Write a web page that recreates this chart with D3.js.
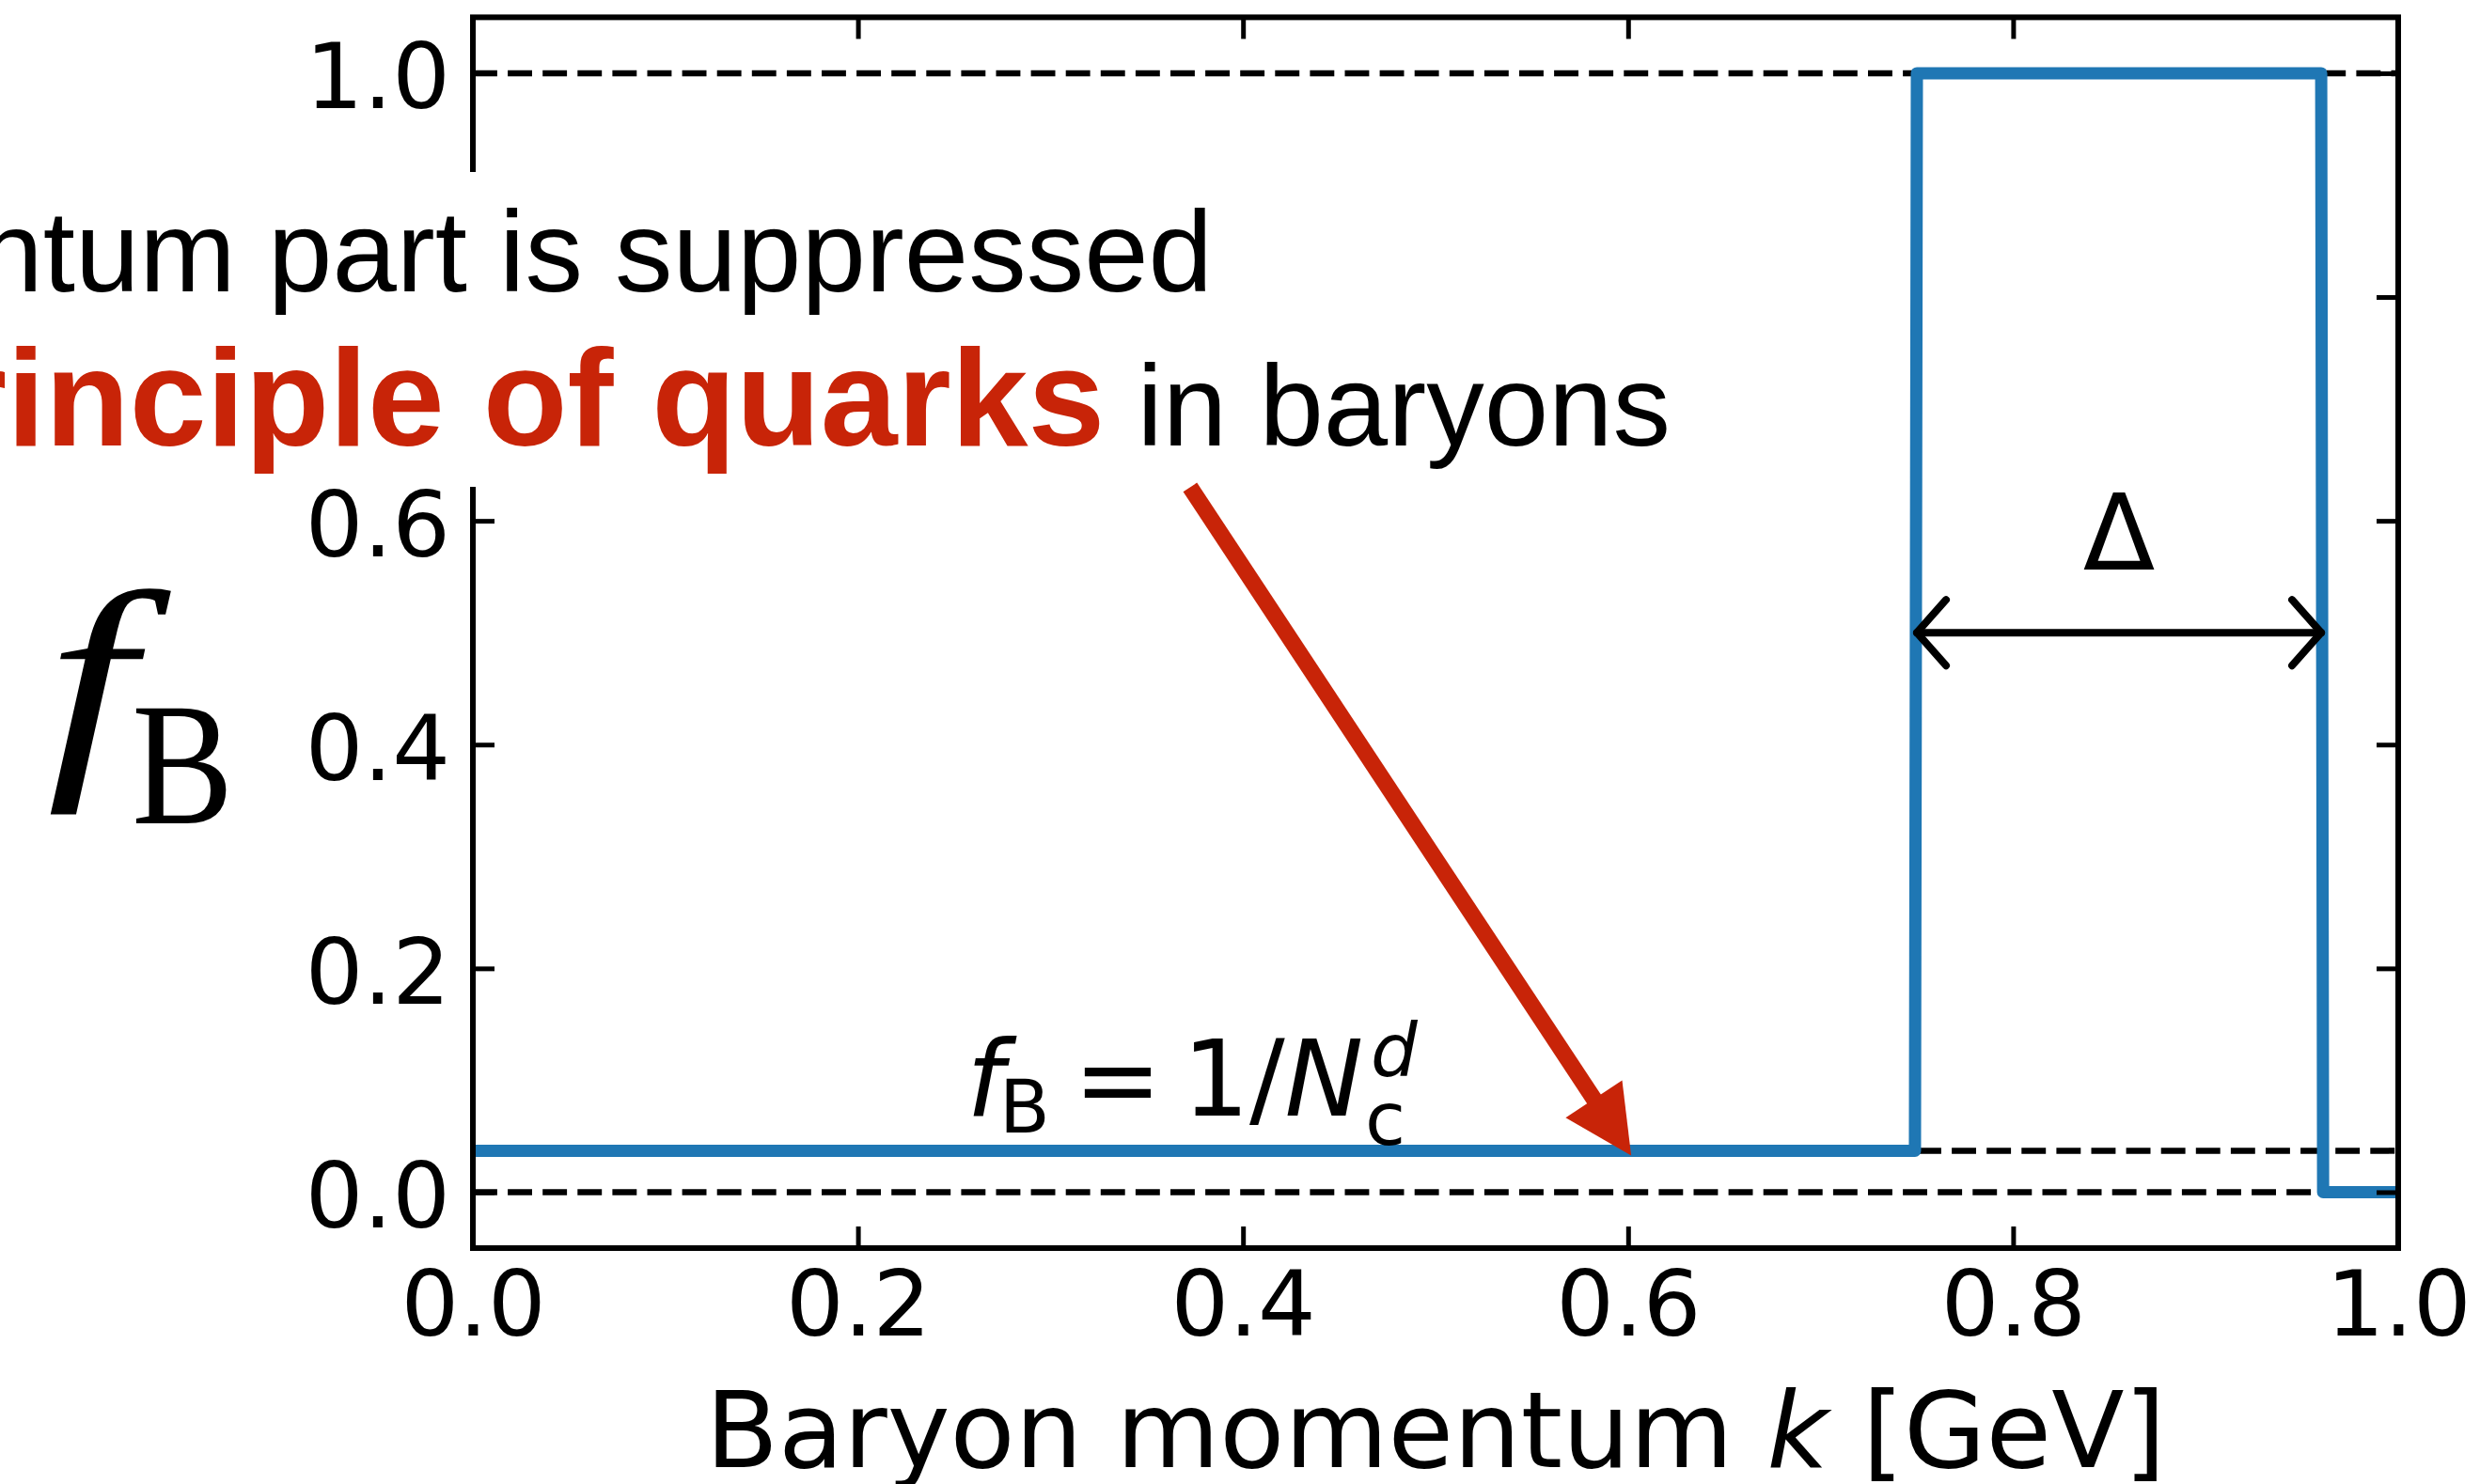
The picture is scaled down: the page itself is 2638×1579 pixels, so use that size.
<!DOCTYPE html>
<html><head><meta charset="utf-8">
<script src="https://cdn.jsdelivr.net/npm/d3@7"></script>
<style>html,body{margin:0;padding:0;background:#fff;} svg{display:block;}</style>
</head><body>
<svg id="chart" width="2638" height="1579"></svg>
<script>
// ---------- data ----------
const momentum   = [0, 0.749, 0.750, 0.960, 0.961, 1.0];     // k [GeV]
const occupation = [0.037, 0.037, 1.0, 1.0, 0.0, 0.0];       // f_B
const xTickValues = [0, 0.2, 0.4, 0.6, 0.8, 1.0];
const xTickLabels = ["0.0", "0.2", "0.4", "0.6", "0.8", "1.0"];
const yTickValues = [0, 0.2, 0.4, 0.6, 0.8, 1.0];
const yTickLabels = ["0.0", "0.2", "0.4", "0.6", "", "1.0"];   // 0.8 hidden behind the annotation box
const refLevel = [1.0, 0.0, 0.037];   // dashed guide levels
const refFrom  = [0.0, 0.0, 0.75];
const refTo    = [1.0, 1.0, 1.0];
const deltaRange = [0.75, 0.96];
const deltaLevel = 0.5;
const arrowTail = [0.3725, 0.630];
const arrowTip  = [0.6, 0.037];
const xDomain = [0, 1];
const yDomain = [-0.05, 1.05];

// ---------- layout ----------
const W = 2638, H = 1579;
const pL = 503, pR = 2551, pT = 18.4, pB = 1328;
const BLUE = "#1f77b4", RED = "#c82408";
const svg = d3.select("#chart");
svg.append("rect").attr("width", W).attr("height", H).attr("fill", "#fff");

const x = d3.scaleLinear().domain(xDomain).range([pL, pR]);
const y = d3.scaleLinear().domain(yDomain).range([pB, pT]);

svg.append("defs").append("clipPath").attr("id", "plotclip")
  .append("rect").attr("x", pL).attr("y", pT).attr("width", pR - pL).attr("height", pB - pT);

const plot = svg.append("g").attr("clip-path", "url(#plotclip)");

// dashed reference lines
plot.selectAll("line.ref").data(refLevel).enter().append("line")
  .attr("class", "ref")
  .attr("x1", (d, i) => x(refFrom[i])).attr("x2", (d, i) => x(refTo[i]))
  .attr("y1", d => y(d)).attr("y2", d => y(d))
  .attr("stroke", "#000").attr("stroke-width", 6.5)
  .attr("stroke-dasharray", "25.9 11.2");

// step curve
const pts = momentum.map((k, i) => [k, occupation[i]]);
plot.append("path").datum(pts)
  .attr("d", d3.line().x(d => x(d[0])).y(d => y(d[1])))
  .attr("fill", "none").attr("stroke", BLUE).attr("stroke-width", 13)
  .attr("stroke-linejoin", "round");

// ---------- axes ----------
const tickLen = 23;
const styleAxis = g => {
  g.select(".domain").remove();
  g.selectAll(".tick line").attr("stroke", "#000").attr("stroke-width", 5);
  g.selectAll(".tick text").attr("fill", "#000")
    .style("font-family", "'DejaVu Sans'").style("font-size", "97px");
};
svg.append("g").attr("transform", `translate(0,${pB})`)
  .call(d3.axisBottom(x).tickValues(xTickValues).tickSizeInner(-tickLen).tickSizeOuter(0)
        .tickPadding(24).tickFormat((d, i) => xTickLabels[i]))
  .call(styleAxis);
svg.append("g").attr("transform", `translate(0,${pT})`)
  .call(d3.axisTop(x).tickValues(xTickValues).tickSizeInner(-tickLen).tickSizeOuter(0).tickFormat(""))
  .call(styleAxis);
const yAxisG = svg.append("g").attr("transform", `translate(${pL},0)`)
  .call(d3.axisLeft(y).tickValues(yTickValues).tickSizeInner(-tickLen).tickSizeOuter(0)
        .tickPadding(24).tickFormat((d, i) => yTickLabels[i]))
  .call(styleAxis);
yAxisG.selectAll(".tick text").attr("dy", "0.38em");
yAxisG.selectAll(".tick text").filter(function () { return this.textContent === ""; }).remove();
svg.append("g").attr("transform", `translate(${pR},0)`)
  .call(d3.axisRight(y).tickValues(yTickValues).tickSizeInner(-tickLen).tickSizeOuter(0).tickFormat(""))
  .call(styleAxis);
svg.selectAll(".tick text").filter(function () { return this.textContent === ""; }).remove();

// frame
svg.append("rect").attr("x", pL).attr("y", pT).attr("width", pR - pL).attr("height", pB - pT)
  .attr("fill", "none").attr("stroke", "#000").attr("stroke-width", 6);

// axis labels
const xl = svg.append("text").attr("x", (pL + pR) / 2).attr("y", 1561)
  .attr("text-anchor", "middle").style("font-family", "'DejaVu Sans'").style("font-size", "113px").attr("fill", "#000");
xl.append("tspan").text("Baryon momentum ");
xl.append("tspan").text("k").style("font-style", "italic");
xl.append("tspan").text(" [GeV]");

const yl = svg.append("text").attr("transform", "translate(0,0)")
  .style("font-family", "'Liberation Serif'").attr("fill", "#000");
yl.append("tspan").attr("x", 0).attr("y", 0).text("f")
  .style("font-style", "italic").style("font-size", "262px")
  .attr("transform", null);
yl.attr("transform", "translate(50,810.8) scale(1.28,1)");
yl.append("tspan").attr("x", (140.3 - 50) / 1.28).attr("y", 876 - 810.8).text("B")
  .style("font-size", "186px");
// undo the horizontal stretch for B by compensating letter width via textLength
yl.select("tspan:last-child").attr("textLength", 108 / 1.28).attr("lengthAdjust", "spacingAndGlyphs");

// ---------- annotation box with text ----------
svg.append("rect").attr("x", 0).attr("y", 183).attr("width", 1800).attr("height", 335).attr("fill", "#fff");
svg.append("text").attr("x", 1290).attr("y", 310).attr("text-anchor", "end")
  .style("font-family", "'Liberation Sans'").style("font-size", "123px").attr("fill", "#000")
  .text("Low-momentum part is suppressed");
const l2 = svg.append("text").attr("x", 1777).attr("y", 474).attr("text-anchor", "end")
  .style("font-family", "'Liberation Sans'").style("font-size", "123px").attr("fill", "#000");
l2.append("tspan").text("by ");
l2.append("tspan").text("Pauli principle of quarks").attr("fill", RED)
  .style("font-weight", "bold").style("font-size", "147px");
l2.append("tspan").text(" in baryons");

// red arrow
{
  const x0 = x(arrowTail[0]), y0 = y(arrowTail[1]);
  const x1 = x(arrowTip[0]), y1 = y(arrowTip[1]);
  const len = Math.hypot(x1 - x0, y1 - y0);
  const ux = (x1 - x0) / len, uy = (y1 - y0) / len;
  const tx = x1 + ux * 6, ty = y1 + uy * 6;       // tip incl. stroke overshoot
  const hl = 72, hw = 36;
  const bx = tx - ux * hl, by = ty - uy * hl;
  svg.append("line").attr("x1", x0).attr("y1", y0).attr("x2", bx + ux * 10).attr("y2", by + uy * 10)
    .attr("stroke", RED).attr("stroke-width", 17.5);
  svg.append("path")
    .attr("d", `M${tx},${ty} L${bx - uy * hw},${by + ux * hw} L${bx + uy * hw},${by - ux * hw} Z`)
    .attr("fill", RED);
}

// Delta double arrow
{
  const xa = x(deltaRange[0]), xb = x(deltaRange[1]), yy = y(deltaLevel);
  const g = svg.append("g").attr("stroke", "#000").attr("stroke-width", 8)
    .attr("fill", "none").attr("stroke-linecap", "round").attr("stroke-linejoin", "round");
  g.append("line").attr("x1", xa).attr("x2", xb).attr("y1", yy).attr("y2", yy);
  g.append("path").attr("d", `M${xa + 31},${yy - 35} L${xa},${yy} L${xa + 31},${yy + 35}`);
  g.append("path").attr("d", `M${xb - 31},${yy - 35} L${xb},${yy} L${xb - 31},${yy + 35}`);
  svg.append("text").attr("x", (xa + xb) / 2).attr("y", 606).attr("text-anchor", "middle")
    .style("font-family", "'DejaVu Sans'").style("font-size", "112px").text("Δ");
}

// f_B = 1/N_c^d  (one text element, pieces placed like mathtext)
{
  const ox = 1028, oy = 1186.7;
  const t = svg.append("text").style("font-family", "'DejaVu Sans'").attr("fill", "#000");
  const piece = (dx, dy, s, size, italic) => t.append("tspan").attr("x", ox + dx).attr("y", oy + dy).text(s)
    .style("font-size", size + "px").style("font-style", italic ? "italic" : "normal");
  piece(0, 0, "f", 112, true);
  piece(35, 18.3, "B", 78.4, false);
  piece(114, 0, "=", 112, false);
  piece(229.7, 0, "1/", 112, false);
  piece(338.6, 0, "N", 112, true);
  piece(424, 31.3, "c", 78.4, false);
  piece(430, -41.7, "d", 78.4, true);
}
</script>
</body></html>
